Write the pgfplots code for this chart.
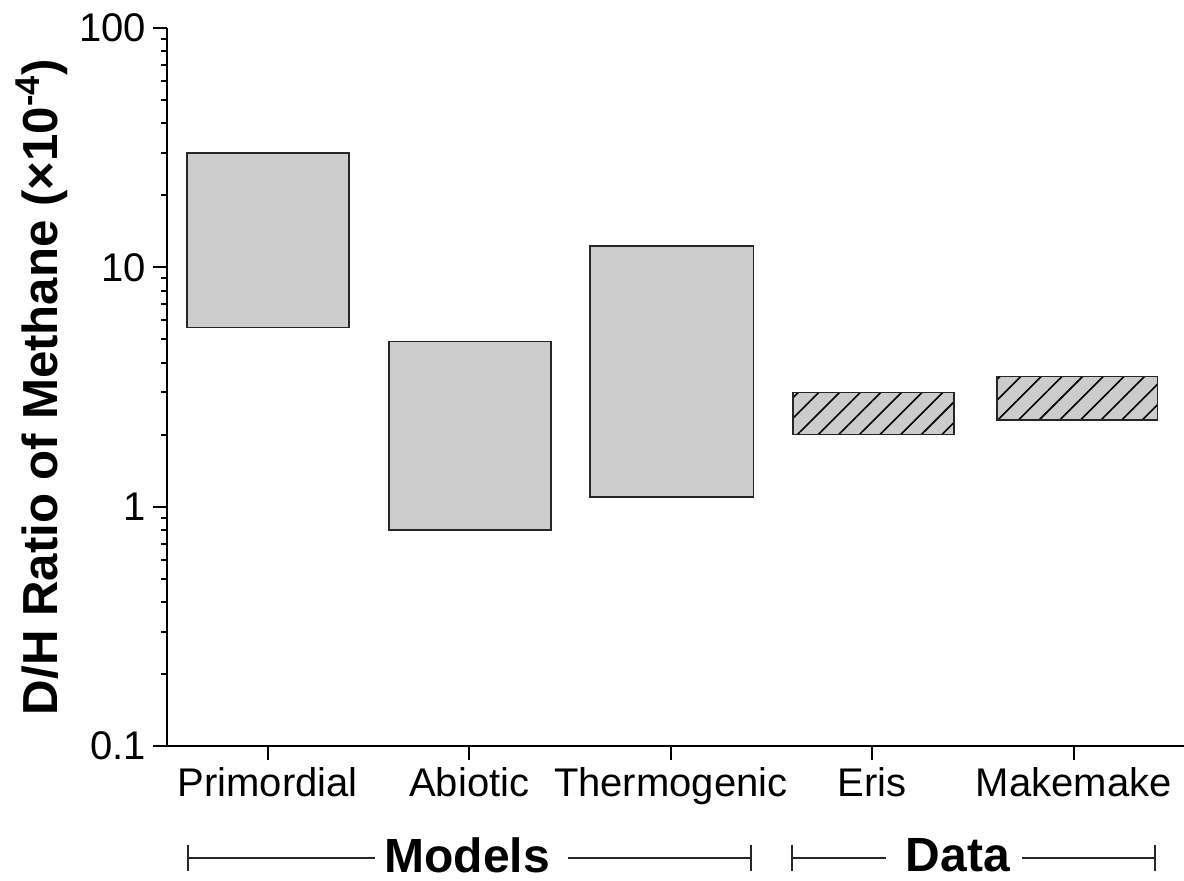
\documentclass[border=0pt]{standalone}
\usepackage{fontspec}
\setmainfont{Liberation Sans}
\usepackage{pgfplots}
\pgfplotsset{compat=1.18}
\usetikzlibrary{patterns.meta}

\definecolor{boxgray}{HTML}{CCCCCC}
\definecolor{edgegray}{HTML}{262626}

\begin{document}
\begin{tikzpicture}
\begin{axis}[
    name=ax,
    scale only axis,
    width=508.8pt, height=359pt,
    xmin=-0.5, xmax=4.55,
    ymode=log, ymin=0.1, ymax=100,
    axis lines=left,
    axis line style={-, line width=1.4pt},
    clip=false,
    xtick={0,1,2,3,4},
    xticklabels={Primordial,Abiotic,Thermogenic,Eris,Makemake},
    ytick={0.1,1,10,100},
    yticklabels={0.1,1,10,100},
    minor ytick={0.2,0.3,0.4,0.5,0.6,0.7,0.8,0.9,2,3,4,5,6,7,8,9,20,30,40,50,60,70,80,90},
    tick align=outside,
    major tick length=7pt,
    minor tick length=3.2pt,
    tick style={black, line width=1pt},
    ticklabel style={font=\fontsize{20}{24}\selectfont},
    ylabel={\textbf{D/H Ratio of Methane (×10\textsuperscript{-4})}},
    ylabel style={font=\fontsize{24.6}{28}\selectfont, at={(axis description cs:-0.1228,0.5)}, anchor=center},
]
% model ranges
\addplot[fill=boxgray, draw=edgegray, line width=0.8pt]
  coordinates {(-0.40,5.6) (0.404,5.6) (0.404,30) (-0.40,30)} -- cycle;
\addplot[fill=boxgray, draw=edgegray, line width=0.8pt]
  coordinates {(0.603,0.8) (1.407,0.8) (1.407,4.9) (0.603,4.9)} -- cycle;
\addplot[fill=boxgray, draw=edgegray, line width=0.8pt]
  coordinates {(1.60,1.1) (2.41,1.1) (2.41,12.3) (1.60,12.3)} -- cycle;
% observed ranges
\addplot[fill=boxgray, draw=edgegray, line width=0.8pt,
  postaction={pattern={Lines[angle=45,distance=7.3pt,line width=0.8pt]}, pattern color=black}]
  coordinates {(2.608,2.0) (3.407,2.0) (3.407,3.0) (2.608,3.0)} -- cycle;
\addplot[fill=boxgray, draw=edgegray, line width=0.8pt,
  postaction={pattern={Lines[angle=45,distance=7.3pt,line width=0.8pt]}, pattern color=black}]
  coordinates {(3.62,2.3) (4.415,2.3) (4.415,3.5) (3.62,3.5)} -- cycle;

% group brackets
\begin{scope}[edgegray, line width=0.9pt]
\draw ([yshift=-56pt]axis cs:-0.395,0.1) -- ([yshift=-56pt]axis cs:0.53,0.1);
\draw ([yshift=-56pt]axis cs:1.49,0.1) -- ([yshift=-56pt]axis cs:2.398,0.1);
\draw ([yshift=-49.3pt]axis cs:-0.395,0.1) -- ([yshift=-62.7pt]axis cs:-0.395,0.1);
\draw ([yshift=-49.3pt]axis cs:2.398,0.1) -- ([yshift=-62.7pt]axis cs:2.398,0.1);
\draw ([yshift=-56pt]axis cs:2.60,0.1) -- ([yshift=-56pt]axis cs:3.07,0.1);
\draw ([yshift=-56pt]axis cs:3.743,0.1) -- ([yshift=-56pt]axis cs:4.403,0.1);
\draw ([yshift=-49.3pt]axis cs:2.60,0.1) -- ([yshift=-62.7pt]axis cs:2.60,0.1);
\draw ([yshift=-49.3pt]axis cs:4.403,0.1) -- ([yshift=-62.7pt]axis cs:4.403,0.1);
\end{scope}
\node[font=\fontsize{24}{28}\selectfont\bfseries, inner sep=0pt] at ([yshift=-54.5pt]axis cs:0.99,0.1) {Models};
\node[font=\fontsize{24}{28}\selectfont\bfseries, inner sep=0pt] at ([yshift=-54.5pt]axis cs:3.425,0.1) {Data};
\end{axis}
\pgfresetboundingbox
\path[use as bounding box] ([xshift=-83.5pt,yshift=-67.5pt]ax.south west) rectangle ([xshift=508.5pt,yshift=14pt]ax.north west);
\end{tikzpicture}
\end{document}
